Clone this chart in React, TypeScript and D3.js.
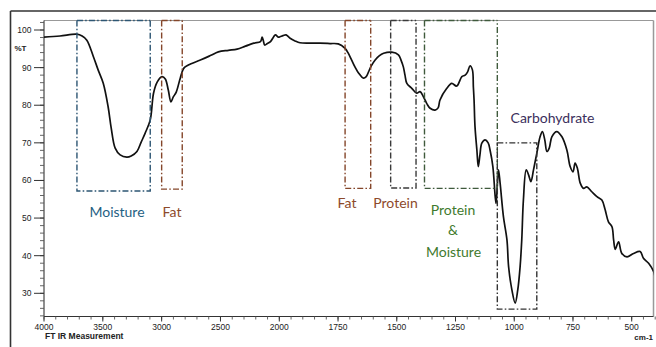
import React from "react";
import * as d3 from "d3";

// Spectrum: wavenumber (cm-1) and transmittance (%T)
const wavenumber = [
  4000, 3864, 3721, 3676, 3636, 3580, 3540, 3497, 3455, 3429, 3395, 3353, 3296, 3259, 3210, 3174, 3140, 3097,
  3069, 3037, 2997, 2969, 2944, 2921, 2901, 2876, 2842, 2813, 2773, 2671, 2586, 2518, 2433, 2359, 2288, 2217,
  2160, 2146, 2135, 2124, 2101, 2075, 2050, 2033, 2007, 1997, 1984, 1971, 1954, 1933, 1912, 1869, 1827, 1784,
  1749, 1720, 1707, 1692, 1678, 1662, 1642, 1630, 1620, 1609, 1592, 1575, 1556, 1521, 1493, 1482, 1472, 1465,
  1457, 1436, 1415, 1401, 1387, 1371, 1358, 1337, 1324, 1316, 1287, 1266, 1245, 1223, 1209, 1199, 1188, 1178,
  1174, 1171, 1167, 1159, 1153, 1146, 1138, 1124, 1111, 1103, 1091, 1081, 1077, 1072, 1067, 1060, 1046, 1031,
  1024, 1010, 996, 985, 975, 968, 961, 949, 939, 929, 918, 904, 890, 880, 870, 861, 851, 840, 819, 797, 776,
  762, 750, 741, 731, 719, 705, 691, 670, 648, 627, 613, 599, 584, 577, 570, 556, 542, 520, 492, 464, 450, 428,
  407, 400,
];
const transmittance = [
  98.1, 98.4, 98.9, 98.4, 97.3, 92.9, 89.4, 85.9, 79.6, 74.0, 68.6, 66.8, 66.2, 66.5, 67.7, 70.2, 72.6, 76.1,
  83.2, 86.2, 87.6, 87.0, 84.1, 80.9, 82.2, 83.5, 87.2, 89.8, 90.7, 92.0, 93.2, 94.2, 94.6, 94.9, 95.7, 96.5,
  96.9, 98.1, 97.1, 96.0, 96.4, 96.9, 98.1, 98.7, 98.1, 98.2, 98.5, 98.7, 97.8, 97.1, 96.6, 96.5, 96.5, 96.4,
  96.3, 95.1, 93.9, 92.0, 90.2, 88.5, 87.2, 87.6, 88.9, 90.4, 92.0, 93.1, 93.8, 94.1, 93.4, 92.0, 90.2, 88.0,
  85.8, 84.5, 83.2, 83.6, 82.3, 80.3, 79.2, 78.7, 79.3, 81.4, 84.5, 85.8, 85.1, 87.6, 88.0, 88.8, 90.5, 89.4,
  84.9, 81.4, 74.3, 68.1, 63.7, 66.8, 69.9, 70.8, 70.0, 68.1, 63.7, 55.7, 53.9, 58.8, 62.8, 59.2, 50.4, 44.2,
  37.1, 30.9, 27.4, 30.9, 37.1, 44.2, 54.8, 62.8, 61.5, 59.7, 62.8, 67.2, 71.6, 73.0, 70.8, 67.7, 68.6, 71.6,
  73.0, 71.6, 68.1, 63.7, 62.3, 64.6, 63.2, 59.3, 57.9, 58.3, 57.0, 55.7, 54.8, 52.2, 49.0, 47.7, 44.2, 41.7,
  43.7, 40.6, 39.7, 40.6, 41.1, 39.3, 38.0, 35.8, 34.1,
];

const xTickValues = [4000, 3500, 3000, 2500, 2000, 1750, 1500, 1250, 1000, 750, 500];
const yTickValues = [30, 40, 50, 60, 70, 80, 90, 100];

// Annotation regions: [high wavenumber, low wavenumber, bottom %T, top %T (null = plot top)]
const regionNames = ["Moisture", "Fat", "Fat", "Protein", "Protein & Moisture", "Carbohydrate"];
const regionHigh = [3720, 3000, 1720, 1526, 1382, 1072];
const regionLow = [3097, 2825, 1611, 1418, 1072, 904];
const regionBottom = [57.2, 57.7, 57.9, 58.0, 57.9, 25.8];
const regionTop: (number | null)[] = [null, null, null, null, null, 70.0];
const regionStroke = ["#2d5673", "#84462a", "#84462a", "#3a3a3a", "#3f5a3c", "#333333"];

const W = 656;
const H = 347;
const left = 44;
const right = 653.5;
const top = 20.5;
const bottom = 316.5;

export default function App() {
  const x = d3.scaleLinear().domain([4000, 2000, 400]).range([left, 279.3, 655.2]);
  const y = d3.scaleLinear().domain([30, 100]).range([293.3, 30]);

  const line = d3
    .line<number>()
    .x((_, i) => x(wavenumber[i]))
    .y((d) => y(d))
    .curve(d3.curveCatmullRom.alpha(0.5));

  const minorX: number[] = [];
  for (let v = 4000; v >= 2000; v -= 100) minorX.push(v);
  for (let v = 1950; v >= 400; v -= 50) minorX.push(v);
  const minorY: number[] = [];
  for (let v = 24; v <= 102; v += 2) minorY.push(v);

  const dash = "6,2.2,1.6,2.2";
  const tickFont = "'Liberation Sans', Arial, sans-serif";
  const labelFont = "Lato, 'Open Sans', sans-serif";

  return (
    <svg width={W} height={H} style={{ position: "absolute", left: 0, top: 0, background: "#fff" }}>
      <defs>
        <clipPath id="plotclip">
          <rect x={left} y={top} width={right - left} height={bottom - top} />
        </clipPath>
      </defs>
      <rect x={0} y={0} width={W} height={H} fill="#fff" />
      {/* outer frame */}
      <line x1={10.5} y1={11} x2={656} y2={11} stroke="#333" strokeWidth={1.6} />
      <line x1={10.5} y1={11} x2={10.5} y2={347} stroke="#333" strokeWidth={1.6} />
      {/* plot box */}
      <line x1={left} y1={top} x2={right} y2={top} stroke="#999" strokeWidth={1.2} />
      <line x1={right} y1={top} x2={right} y2={bottom} stroke="#999" strokeWidth={1.5} />

      {/* y axis */}
      <line x1={left} y1={top} x2={left} y2={bottom} stroke="#333" strokeWidth={1.1} />
      {minorY.map((v) => (
        <line key={"my" + v} x1={left - 4} x2={left} y1={y(v)} y2={y(v)} stroke="#555" strokeWidth={0.9} />
      ))}
      {yTickValues.map((v) => (
        <g key={"y" + v}>
          <line x1={left - 10} x2={left} y1={y(v)} y2={y(v)} stroke="#333" strokeWidth={1} />
          <text x={31.5} y={y(v) + 3} textAnchor="end" fontFamily={tickFont} fontSize={8.5} fill="#222">
            {v}
          </text>
        </g>
      ))}
      <text x={14.5} y={50.5} fontFamily={tickFont} fontSize={8} fontWeight="bold" fill="#222">
        %T
      </text>

      {/* x axis */}
      <line x1={left} y1={bottom} x2={right} y2={bottom} stroke="#333" strokeWidth={1.1} />
      {minorX.map((v) => (
        <line key={"mx" + v} x1={x(v)} x2={x(v)} y1={bottom} y2={bottom + 3} stroke="#555" strokeWidth={0.9} />
      ))}
      {xTickValues.map((v) => (
        <g key={"x" + v}>
          <line x1={x(v)} x2={x(v)} y1={bottom} y2={bottom + 5} stroke="#333" strokeWidth={1} />
          <text x={x(v)} y={330} textAnchor="middle" fontFamily={tickFont} fontSize={8.5} fill="#222">
            {v}
          </text>
        </g>
      ))}
      <text x={45} y={338.5} fontFamily={tickFont} fontSize={8.5} fontWeight="bold" fill="#222">
        FT IR Measurement
      </text>
      <text x={653} y={340} textAnchor="end" fontFamily={tickFont} fontSize={8} fontWeight="bold" fill="#222">
        cm-1
      </text>

      {/* spectrum */}
      <g clipPath="url(#plotclip)">
        <path d={line(transmittance) || ""} fill="none" stroke="#111" strokeWidth={1.7} strokeLinejoin="round" />
      </g>

      {/* annotation boxes */}
      {regionNames.map((n, i) => {
        const x1 = x(regionHigh[i]);
        const x2 = x(regionLow[i]);
        const yb = y(regionBottom[i]);
        const t = regionTop[i];
        const yt = t === null ? top : y(t);
        const d =
          t === null
            ? `M${x1},${yt} L${x1},${yb} L${x2},${yb} L${x2},${yt} M${x1},${yt} L${x2},${yt}`
            : `M${x1},${yt} L${x2},${yt} L${x2},${yb} L${x1},${yb} Z`;
        return (
          <path key={"r" + i} d={d} fill="none" stroke={regionStroke[i]} strokeWidth={1.4} strokeDasharray={dash} />
        );
      })}

      {/* annotation labels */}
      <text x={117} y={216.5} textAnchor="middle" fontFamily={labelFont} fontSize={14} fill="#1f6183">
        Moisture
      </text>
      <text x={172} y={216.5} textAnchor="middle" fontFamily={labelFont} fontSize={14} fill="#8d4a2b">
        Fat
      </text>
      <text x={347} y={207.5} textAnchor="middle" fontFamily={labelFont} fontSize={14} fill="#8d4a2b">
        Fat
      </text>
      <text x={395.5} y={207.5} textAnchor="middle" fontFamily={labelFont} fontSize={14} fill="#8d4a2b">
        Protein
      </text>
      <text x={453} y={214.5} textAnchor="middle" fontFamily={labelFont} fontSize={14} fill="#3f7a2e">
        Protein
      </text>
      <text x={453} y={235} textAnchor="middle" fontFamily={labelFont} fontSize={14} fill="#3f7a2e">
        &amp;
      </text>
      <text x={453.5} y={256.5} textAnchor="middle" fontFamily={labelFont} fontSize={14} fill="#3f7a2e">
        Moisture
      </text>
      <text x={552.5} y={122.5} textAnchor="middle" fontFamily={labelFont} fontSize={14} fill="#3b2f5c">
        Carbohydrate
      </text>
    </svg>
  );
}
